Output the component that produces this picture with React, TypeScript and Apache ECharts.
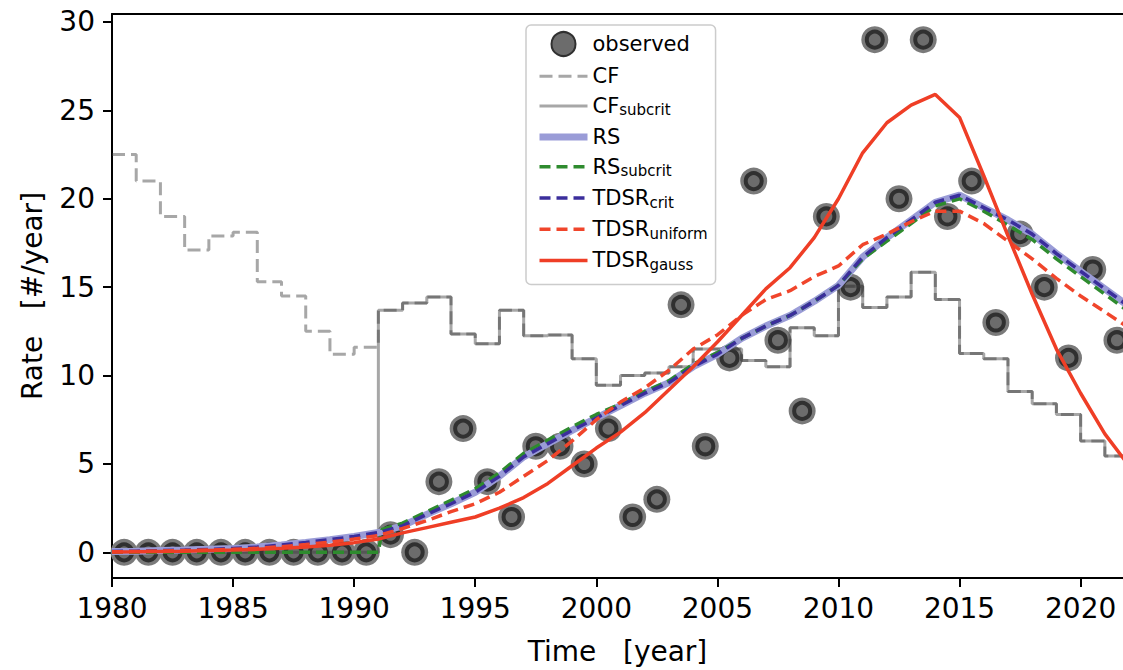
import React, { useEffect, useRef } from "react";
import * as echarts from "echarts";

// ---- data ----
const curveYears = [
  1980, 1981, 1982, 1983, 1984, 1985, 1986, 1987, 1988, 1989,
  1990, 1991, 1992, 1993, 1994, 1995, 1996, 1997, 1998, 1999,
  2000, 2001, 2002, 2003, 2004, 2005, 2006, 2007, 2008, 2009,
  2010, 2011, 2012, 2013, 2014, 2015, 2016, 2017, 2018, 2019,
  2020, 2021, 2022,
];

const observed = [
  0, 0, 0, 0, 0, 0, 0, 0, 0, 0, 0,
  1, 0, 4, 7, 4, 2, 6, 6, 5, 7, 2, 3, 14, 6, 11, 21, 12, 8, 19, 15,
  29, 20, 29, 19, 21, 13, 18, 15, 11, 16, 12,
];

// step values, each holding from its year to the next
const cfValues = [
  22.5, 21.0, 19.0, 17.1, 17.9, 18.1, 15.3, 14.5, 12.5, 11.2,
  11.6, 13.7, 14.1, 14.45, 12.35, 11.8, 13.7, 12.25, 12.3, 10.95,
  9.45, 10.0, 10.15, 10.5, 11.5, 11.5, 10.85, 10.5, 12.7, 12.25,
  15.05, 13.85, 14.45, 15.85, 14.3, 11.25, 10.95, 9.1, 8.4, 7.8,
  6.3, 5.45, 5.45,
];

const cfSubcritValues = [
  0, 0, 0, 0, 0, 0, 0, 0, 0, 0,
  0, 13.7, 14.1, 14.45, 12.35, 11.8, 13.7, 12.25, 12.3, 10.95,
  9.45, 10.0, 10.15, 10.5, 11.5, 11.5, 10.85, 10.5, 12.7, 12.25,
  15.05, 13.85, 14.45, 15.85, 14.3, 11.25, 10.95, 9.1, 8.4, 7.8,
  6.3, 5.45, 5.45,
];

const rsValues = [
  0.05, 0.07, 0.1, 0.13, 0.17, 0.22, 0.3, 0.42, 0.56, 0.72,
  0.9, 1.12, 1.5, 2.15, 2.75, 3.4, 4.3, 5.4, 6.15, 6.9,
  7.6, 8.3, 9.0, 9.6, 10.5, 11.2, 12.1, 12.8, 13.4, 14.2,
  15.1, 16.7, 17.8, 18.8, 19.8, 20.2, 19.5, 18.8, 18.0, 16.9,
  15.9, 14.9, 13.9,
];

const rsSubcritYears = [
  1980, 1981, 1982, 1983, 1984, 1985, 1986, 1987, 1988, 1989, 1990, 1991,
  1991.15, 1992, 1993, 1994, 1995, 1996, 1997, 1998, 1999, 2000, 2001,
  2002, 2003, 2004, 2005, 2006, 2007, 2008, 2009, 2010, 2011,
  2012, 2013, 2014, 2015, 2016, 2017, 2018, 2019, 2020, 2021, 2022,
];
const rsSubcritValues = [
  0, 0, 0, 0, 0, 0, 0, 0, 0, 0, 0, 0,
  1.3, 1.65, 2.3, 2.95, 3.6, 4.5, 5.6, 6.35, 7.1, 7.8, 8.4,
  9.1, 9.7, 10.65, 11.3, 12.1, 12.8, 13.4, 14.2, 15.1, 16.6,
  17.6, 18.6, 19.6, 20.0, 19.3, 18.5, 17.7, 16.6, 15.6, 14.6, 13.6,
];

const tdsrCritValues = [
  0.05, 0.07, 0.1, 0.13, 0.17, 0.22, 0.3, 0.42, 0.56, 0.72,
  0.9, 1.12, 1.5, 2.15, 2.75, 3.4, 4.3, 5.4, 6.15, 6.9,
  7.6, 8.3, 9.0, 9.6, 10.5, 11.2, 12.1, 12.8, 13.4, 14.2,
  15.1, 16.7, 17.8, 18.8, 19.8, 20.2, 19.5, 18.8, 18.0, 16.9,
  15.9, 14.9, 13.9,
];

const tdsrUniformValues = [
  0.03, 0.05, 0.07, 0.1, 0.13, 0.17, 0.23, 0.32, 0.44, 0.58,
  0.75, 0.95, 1.35, 1.8, 2.3, 2.75, 3.4, 4.3, 5.2, 6.3,
  7.5, 8.5, 9.3, 10.3, 11.5, 12.3, 13.4, 14.3, 14.8, 15.6,
  16.2, 17.4, 18.0, 18.7, 19.3, 19.3, 18.6, 17.6, 16.6, 15.5,
  14.5, 13.6, 12.7,
];

const tdsrGaussValues = [
  0.02, 0.03, 0.05, 0.07, 0.1, 0.13, 0.17, 0.23, 0.3, 0.4,
  0.55, 0.75, 1.1, 1.4, 1.7, 2.0, 2.5, 3.1, 3.9, 4.9,
  5.9, 6.8, 7.9, 9.2, 10.5, 11.9, 13.4, 14.9, 16.1, 17.8,
  20.0, 22.6, 24.3, 25.3, 25.9, 24.6, 21.3, 17.9, 14.6, 11.5,
  9.0, 6.7, 4.9,
];

const xTicks = [1980, 1985, 1990, 1995, 2000, 2005, 2010, 2015, 2020];
const yTicks = [0, 5, 10, 15, 20, 25, 30];

const legendNames = [
  "observed",
  "CF",
  "CF_subcrit",
  "RS",
  "RS_subcrit",
  "TDSR_crit",
  "TDSR_uniform",
  "TDSR_gauss",
];

const FONT = "DejaVu Sans";

function pairs(xs: number[], ys: number[]) {
  return xs.map((x, i) => [x, ys[i]]);
}

export default function App() {
  const ref = useRef<HTMLDivElement>(null);

  useEffect(() => {
    if (!ref.current) return;
    const chart = echarts.init(ref.current, null, { renderer: "svg" });
    const obsYears = observed.map((_, i) => curveYears[i] + 0.5);
    const obsPairs = pairs(obsYears, observed);

    const lineBase = {
      type: "line",
      showSymbol: false,
      symbol: "none",
      silent: true,
      animation: false,
      z: 3,
    };

    const styles: Record<string, any> = {
      CF: { color: "rgba(60,60,60,0.45)", width: 3, type: [13, 6] },
      CF_subcrit: { color: "rgba(60,60,60,0.45)", width: 3, type: "solid" },
      RS: { color: "#9a9cd7", width: 7, type: "solid" },
      RS_subcrit: { color: "#2e8b2e", width: 3.5, type: [11, 6] },
      TDSR_crit: { color: "#3b2e9c", width: 3.5, type: [11, 6] },
      TDSR_uniform: { color: "#f0452b", width: 3.5, type: [11, 6] },
      TDSR_gauss: { color: "#ef3e26", width: 3.5, type: "solid" },
    };

    const legendData = legendNames.map((n) =>
      n === "observed"
        ? { name: n }
        : {
            name: n,
            itemStyle: { color: "rgba(0,0,0,0)", borderWidth: 0, opacity: 0 },
            lineStyle: { ...styles[n], opacity: 1 },
          }
    );

    const option = {
      animation: false,
      grid: { left: 112, right: 0, top: 14, bottom: 88, containLabel: false },
      legend: {
        data: legendData,
        orient: "vertical",
        left: 526,
        top: 25,
        itemWidth: 48,
        itemHeight: 24,
        itemGap: 8.7,
        padding: [6, 8, 12, 10],
        selectedMode: false,
        backgroundColor: "rgba(255,255,255,0.85)",
        borderColor: "#cccccc",
        borderWidth: 1.5,
        borderRadius: 5,
        formatter: (name: string) => {
          const k = name.indexOf("_");
          if (k < 0) return `{m|${name}}`;
          return `{m|${name.slice(0, k)}}{s|${name.slice(k + 1)}}`;
        },
        textStyle: {
          fontFamily: FONT,
          color: "#000",
          fontSize: 21,
          rich: {
            m: { fontFamily: FONT, fontSize: 21, lineHeight: 24, color: "#000", verticalAlign: "middle" },
            s: { fontFamily: FONT, fontSize: 15, lineHeight: 14, color: "#000", verticalAlign: "bottom" },
          },
        },
      },
      xAxis: [
        {
          type: "value",
          min: 1980,
          max: 2021.75,
          name: "Time   [year]",
          nameLocation: "middle",
          nameGap: 59,
          nameTextStyle: { fontFamily: FONT, fontSize: 28, color: "#000" },
          splitLine: { show: false },
          axisLine: { show: true, onZero: false, lineStyle: { color: "#000", width: 2 } },
          axisTick: { show: true, inside: false, length: 9, lineStyle: { color: "#000", width: 2 }, customValues: xTicks },
          axisLabel: {
            fontFamily: FONT,
            fontSize: 28,
            color: "#000",
            margin: 16,
            customValues: xTicks,
            formatter: (v: number) => String(v),
          },
        },
        {
          type: "value",
          position: "top",
          min: 1980,
          max: 2021.75,
          splitLine: { show: false },
          axisLine: { show: true, onZero: false, lineStyle: { color: "#000", width: 2 } },
          axisTick: { show: false },
          axisLabel: { show: false },
        },
      ],
      yAxis: {
        type: "value",
        min: -1.45,
        max: 30.45,
        name: "Rate   [#/year]",
        nameLocation: "middle",
        nameGap: 66,
        nameTextStyle: { fontFamily: FONT, fontSize: 28, color: "#000" },
        splitLine: { show: false },
        axisLine: { show: true, onZero: false, lineStyle: { color: "#000", width: 2 } },
        axisTick: { show: true, inside: false, length: 9, lineStyle: { color: "#000", width: 2 }, customValues: yTicks },
        axisLabel: {
          fontFamily: FONT,
          fontSize: 28,
          color: "#000",
          margin: 17,
          customValues: yTicks,
          formatter: (v: number) => String(v),
        },
      },
      series: [
        {
          name: "observed",
          type: "scatter",
          data: obsPairs,
          symbolSize: 16,
          silent: true,
          z: 2,
          itemStyle: { color: "#6c6c6c", borderColor: "#303030", borderWidth: 4, opacity: 1 },
        },
        {
          name: "observed",
          type: "scatter",
          data: obsPairs,
          symbolSize: 27,
          silent: true,
          z: 1,
          itemStyle: { color: "#7a7a7a", opacity: 1 },
        },
        {
          ...lineBase,
          name: "CF",
          step: "end",
          data: pairs(curveYears, cfValues),
          itemStyle: { color: styles.CF.color },
          lineStyle: styles.CF,
        },
        {
          ...lineBase,
          name: "CF_subcrit",
          step: "end",
          data: pairs(curveYears, cfSubcritValues),
          itemStyle: { color: styles.CF_subcrit.color },
          lineStyle: styles.CF_subcrit,
        },
        {
          ...lineBase,
          name: "RS",
          data: pairs(curveYears, rsValues),
          itemStyle: { color: styles.RS.color },
          lineStyle: styles.RS,
        },
        {
          ...lineBase,
          name: "RS_subcrit",
          data: pairs(rsSubcritYears, rsSubcritValues),
          itemStyle: { color: styles.RS_subcrit.color },
          lineStyle: styles.RS_subcrit,
        },
        {
          ...lineBase,
          name: "TDSR_crit",
          data: pairs(curveYears, tdsrCritValues),
          itemStyle: { color: styles.TDSR_crit.color },
          lineStyle: styles.TDSR_crit,
        },
        {
          ...lineBase,
          name: "TDSR_uniform",
          data: pairs(curveYears, tdsrUniformValues),
          itemStyle: { color: styles.TDSR_uniform.color },
          lineStyle: styles.TDSR_uniform,
        },
        {
          ...lineBase,
          name: "TDSR_gauss",
          data: pairs(curveYears, tdsrGaussValues),
          itemStyle: { color: styles.TDSR_gauss.color },
          lineStyle: styles.TDSR_gauss,
        },
      ],
    };

    chart.setOption(option as any);
    return () => chart.dispose();
  }, []);

  return (
    <div
      ref={ref}
      style={{ position: "absolute", left: 0, top: 0, width: 1123, height: 670, background: "#fff" }}
    />
  );
}
